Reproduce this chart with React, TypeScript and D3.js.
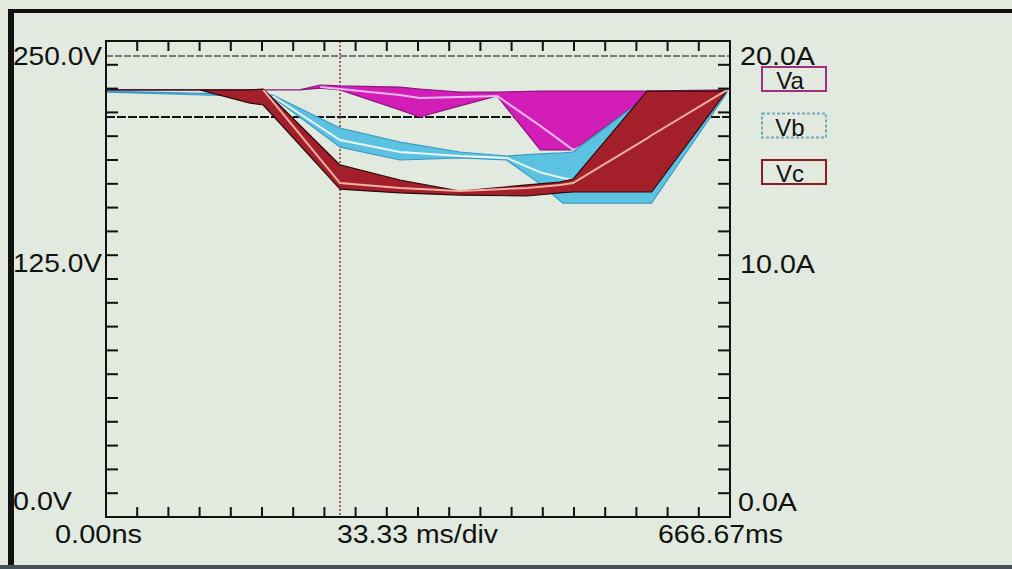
import React from "react";
import * as d3 from "d3";

// time axis (ms) and voltage axis (V)
const timeSpanMs = 666.67;
const divisions = 20;
const voltMax = 250;
const ampMax = 20;

// Va
const timeVa = [0, 207, 229, 250, 314, 335, 378, 418, 464, 499, 563, 578, 664];
const vaUpper = [224.3, 224.3, 226.9, 226.4, 225.8, 224.8, 223.2, 223.2, 223.7, 223.7, 223.7, 223.7, 224.3];
const vaLower = [224.3, 224.3, 225.3, 224.3, 213.8, 210.1, 215.9, 221.1, 192.8, 192.8, 215.3, 219.0, 224.3];
const vaCenter = [null, null, 225.8, 224.8, 221.6, 220.1, 220.6, 221.1, 205.4, 192.8, 205.9, 209.6, 224.3];

// Vb
const timeVb = [0, 178, 250, 314, 378, 428, 464, 488, 499, 563, 583, 664];
const vbUpper = [223.7, 221.6, 204.3, 196.9, 191.7, 189.6, 190.7, 191.2, 191.7, 215.3, 217.4, 223.7];
const vbLower = [223.2, 220.6, 194.3, 187.5, 188.6, 187.5, 174.9, 164.9, 164.9, 164.9, 164.9, 223.2];
const vbCenter = [null, 221.1, 198.0, 191.7, 189.6, 188.6, 181.0, 178.0, 177.0, 198.0, 201.7, 223.7];

// Vc
const timeVc = [0, 100, 154, 168, 250, 314, 378, 450, 485, 499, 578, 583, 656, 664];
const vcUpper = [224.3, 224.3, 224.3, 224.8, 184.9, 177.0, 171.2, 174.4, 175.9, 177.5, 223.7, 223.7, 223.7, 224.8];
const vcLower = [224.3, 224.3, 217.4, 216.4, 172.2, 170.2, 169.1, 168.6, 170.2, 170.7, 170.7, 170.7, 219.0, 224.3];
const vcCenter = [null, null, null, 224.3, 175.4, 172.8, 171.2, 172.8, 174.4, 175.4, 198.9, 200.5, 222.1, 224.3];

// cursors
const cursorVolts = [242.1, 210.1];
const cursorTimeMs = 250;

// labels
const voltLabels = ["250.0V", "125.0V", "0.0V"];
const voltLabelValues = [250, 125, 0];
const ampLabels = ["20.0A", "10.0A", "0.0A"];
const ampLabelValues = [20, 10, 0];
const timeLabels = ["0.00ns", "33.33 ms/div", "666.67ms"];
const legendNames = ["Va", "Vb", "Vc"];

const W = 1012;
const H = 569;
const plot = { left: 106, right: 730, top: 41, bottom: 517 };
const font = "'Liberation Sans', Arial, Helvetica, sans-serif";
const bg = "#e2e9df";

const x = d3.scaleLinear().domain([0, timeSpanMs]).range([plot.left, plot.right]);
const yV = d3.scaleLinear().domain([0, voltMax]).range([plot.bottom, plot.top]);
const yA = d3.scaleLinear().domain([0, ampMax]).range([plot.bottom, plot.top]);

const series = [
  { t: timeVa, hi: vaUpper, lo: vaLower, mid: vaCenter, fill: "#d21eb6", edge: "#8e1680", line: "#f6b8ec", box: "#a0307e", dash: "" },
  { t: timeVb, hi: vbUpper, lo: vbLower, mid: vbCenter, fill: "#5cc2e2", edge: "#3a9cc4", line: "#eaf6fa", box: "#6fa9bb", dash: "3 2" },
  { t: timeVc, hi: vcUpper, lo: vcLower, mid: vcCenter, fill: "#a3202b", edge: "#2a0c0c", line: "#f4b0a2", box: "#8a1c22", dash: "" }
];

// per-label placement (baseline offsets and widths as drawn)
const voltLabelDy = [24, -7, -7];
const voltLabelLen = [89, 89, 59];
const ampLabelDy = [24, -6, -6];
const ampLabelX = [740, 740, 738];
const ampLabelLen = [75, 75, 59];
const timeLabelX = [55, 337, 658];
const timeLabelLen = [87, 161, 125];

export default function App() {
  const idx = (n: number) => d3.range(n);
  const tickT = d3.range(1, divisions).map(i => (i * timeSpanMs) / divisions);
  const tickV = d3.range(1, divisions).map(i => (i * voltMax) / divisions);
  const tickA = d3.range(1, divisions).map(i => (i * ampMax) / divisions);

  return (
    <svg
      width={W}
      height={H}
      style={{ position: "absolute", left: 0, top: 0, display: "block", background: bg }}
      fontFamily={font}
    >
      <rect x={0} y={0} width={W} height={H} fill={bg} />
      {/* outer frame */}
      <rect x={8} y={9} width={W} height={4} fill="#111" />
      <rect x={8} y={9} width={6} height={H} fill="#111" />
      <rect x={0} y={565} width={W} height={4} fill="#46505a" />

      {/* cursors */}
      <line x1={plot.left} x2={plot.right} y1={yV(cursorVolts[0])} y2={yV(cursorVolts[0])} stroke="#555" strokeWidth={1.5} strokeDasharray="7 2" />
      <line x1={plot.left} x2={plot.right} y1={yV(cursorVolts[1])} y2={yV(cursorVolts[1])} stroke="#151515" strokeWidth={2} strokeDasharray="9 2" />
      <line x1={x(cursorTimeMs)} x2={x(cursorTimeMs)} y1={plot.top} y2={plot.bottom} stroke="#7a3a30" strokeWidth={1.5} strokeDasharray="2 2" />

      {/* traces */}
      {series.map((s, k) => {
        const area = d3
          .area<number>()
          .x(i => x(s.t[i]))
          .y0(i => yV(s.lo[i]))
          .y1(i => yV(s.hi[i]));
        const line = d3
          .line<number>()
          .defined(i => s.mid[i] != null)
          .x(i => x(s.t[i]))
          .y(i => yV(s.mid[i] as number));
        return (
          <g key={k}>
            <path d={area(idx(s.t.length)) || ""} fill={s.fill} stroke={s.edge} strokeWidth={1.2} strokeLinejoin="round" />
            <path d={line(idx(s.t.length)) || ""} fill="none" stroke={s.line} strokeWidth={2} />
          </g>
        );
      })}

      {/* axes frame */}
      <rect x={plot.left} y={plot.top} width={plot.right - plot.left} height={plot.bottom - plot.top} fill="none" stroke="#111" strokeWidth={2} />
      {tickT.map((t, i) => (
        <g key={"t" + i} stroke="#111" strokeWidth={2}>
          <line x1={x(t)} x2={x(t)} y1={plot.bottom} y2={plot.bottom - 10} />
          <line x1={x(t)} x2={x(t)} y1={plot.top} y2={plot.top + 10} />
        </g>
      ))}
      {tickV.map((v, i) => (
        <line key={"v" + i} x1={plot.left} x2={plot.left + 12} y1={yV(v)} y2={yV(v)} stroke="#111" strokeWidth={2} />
      ))}
      {tickA.map((a, i) => (
        <line key={"a" + i} x1={plot.right} x2={plot.right - 12} y1={yA(a)} y2={yA(a)} stroke="#111" strokeWidth={2} />
      ))}

      {/* axis labels */}
      {voltLabels.map((l, i) => (
        <text key={l} x={13} y={yV(voltLabelValues[i]) + voltLabelDy[i]} fontSize={26} fill="#111" textLength={voltLabelLen[i]} lengthAdjust="spacingAndGlyphs">
          {l}
        </text>
      ))}
      {ampLabels.map((l, i) => (
        <text key={l} x={ampLabelX[i]} y={yA(ampLabelValues[i]) + ampLabelDy[i]} fontSize={26} fill="#111" textLength={ampLabelLen[i]} lengthAdjust="spacingAndGlyphs">
          {l}
        </text>
      ))}
      {timeLabels.map((l, i) => (
        <text key={l} x={timeLabelX[i]} y={543} fontSize={26} fill="#111" textLength={timeLabelLen[i]} lengthAdjust="spacingAndGlyphs">
          {l}
        </text>
      ))}

      {/* legend */}
      {legendNames.map((n, i) => {
        const top = 67 + i * 46.5;
        return (
          <g key={n}>
            <rect x={762} y={top} width={64} height={24} fill="none" stroke={series[i].box} strokeWidth={2} strokeDasharray={series[i].dash} />
            <text x={790} y={top + 22} fontSize={24} textAnchor="middle" fill="#111">
              {n}
            </text>
          </g>
        );
      })}
    </svg>
  );
}
